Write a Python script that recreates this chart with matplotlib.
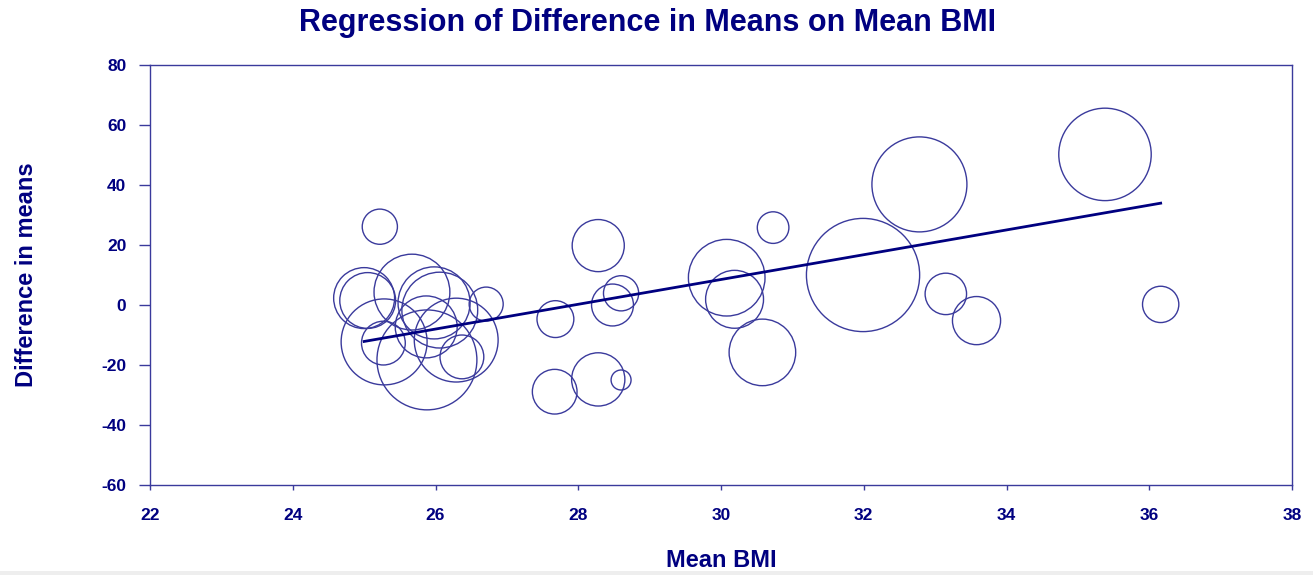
import numpy as np
import matplotlib
matplotlib.use("Agg")
import matplotlib.pyplot as plt
from matplotlib.patches import Rectangle

plt.rcParams["font.family"] = ["Liberation Sans", "DejaVu Sans"]
plt.rcParams["font.weight"] = "bold"
plt.rcParams["axes.unicode_minus"] = False

# study-level data: mean BMI, difference in means, relative weight
mean_bmi = [25.00, 25.05, 25.67, 25.98, 26.06, 25.28, 25.27, 25.88, 26.37, 26.71,
            25.87, 26.29, 25.22, 28.28, 27.68, 28.48, 28.60, 30.08, 30.19, 30.73,
            30.58, 27.67, 28.28, 28.60, 31.99, 32.78, 35.38, 33.15, 33.58, 36.16]
diff_means = [2.3, 1.5, 4.3, 0.7, -1.7, -12.3, -12.7, -18.3, -17.3, 0.3,
              -7.3, -11.7, 26.1, 19.8, -4.7, 0.0, 3.9, 9.1, 1.9, 25.8,
              -15.8, -28.9, -24.8, -25.0, 10.0, 40.2, 50.2, 3.7, -5.2, 0.2]
weight = [9.3, 7.8, 14.4, 13.0, 14.4, 18.5, 4.8, 25.0, 4.8, 2.9,
          9.6, 17.6, 3.1, 6.8, 3.4, 4.4, 3.1, 14.7, 8.4, 2.5,
          11.1, 5.0, 7.1, 1.0, 32.1, 22.6, 21.4, 4.3, 5.8, 3.3]

# meta-regression fit
intercept = -115.4
slope = 4.13

navy = "#000080"
edge = "#3a3a9c"

fig = plt.figure(figsize=(13.13, 5.75), dpi=100)
ax = fig.add_axes([150 / 1313, 90 / 575, 1142 / 1313, 420 / 575])

ax.scatter(mean_bmi, diff_means, s=np.array(weight) * 207, facecolors="none",
           edgecolors=edge, linewidths=1.0, zorder=2)

xs = np.array([min(mean_bmi), max(mean_bmi)])
ax.plot(xs, intercept + slope * xs, color=navy, linewidth=2.0, zorder=3)

ax.set_xlim(22, 38)
ax.set_ylim(-60, 80)
ax.set_xticks(np.arange(22, 39, 2))
ax.set_yticks(np.arange(-60, 81, 20))

for side in ax.spines.values():
    side.set_color(edge)
    side.set_linewidth(1.0)

ax.tick_params(axis="y", direction="out", length=8, width=1, color=edge,
               labelsize=12.5, labelcolor=navy, pad=9)
ax.tick_params(axis="x", direction="out", length=3.6, width=1, color=edge,
               labelsize=12.5, labelcolor=navy, pad=13)
for lab in ax.get_xticklabels() + ax.get_yticklabels():
    lab.set_fontweight("bold")

ax.set_xlabel("Mean BMI", fontsize=17, fontweight="bold", color=navy)
ax.xaxis.set_label_coords(0.5, -0.152)
ax.set_ylabel("Difference in means", fontsize=17, fontweight="bold", color=navy)
ax.yaxis.set_label_coords(-0.098, 0.5)

fig.text(0.4935, 1 - 23 / 575, "Regression of Difference in Means on Mean BMI",
         ha="center", va="center", fontsize=22, fontweight="bold", color=navy)

# thin grey strip along the bottom edge
fig.patches.append(Rectangle((0, 0), 1, 4 / 575, transform=fig.transFigure,
                             facecolor="#eeeeee", edgecolor="none"))

fig.savefig("out.png", dpi=100)
